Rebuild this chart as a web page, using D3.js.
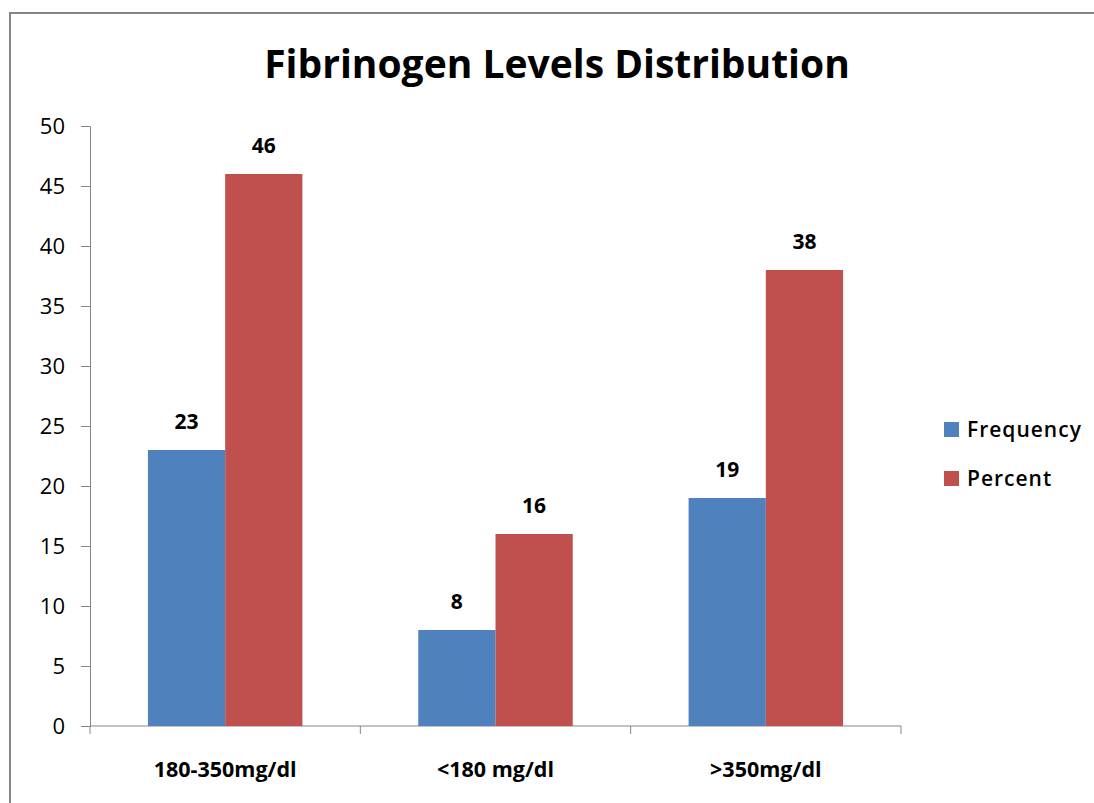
<!DOCTYPE html>
<html>
<head>
<meta charset="utf-8">
<script src="https://cdn.jsdelivr.net/npm/d3@7"></script>
<style>
  body { margin: 0; background: #fff; }
  svg text { font-family: "Open Sans", Lato, sans-serif; fill: #000; font-variant-ligatures: none; }
</style>
</head>
<body>
<div class="barchart"></div>
<script>
// data
var categories = ["180-350mg/dl", "<180 mg/dl", ">350mg/dl"];
var seriesNames = ["Frequency", "Percent"];
var frequency = [23, 8, 19];
var percent = [46, 16, 38];
var yTicks = [0, 5, 10, 15, 20, 25, 30, 35, 40, 45, 50];
var colors = ["#4F81BD", "#C0504D"];

function drawBars() {
    var w = 1094;
    var h = 803;
    var left = 90, right = 901, top = 126, bottom = 726;

    var svg = d3.select(".barchart")
                .append("svg")
                .attr("width", w)
                .attr("height", h);

    // chart frame (runs off the right and bottom edges)
    svg.append("rect")
        .attr("x", 10).attr("y", 13)
        .attr("width", 1200).attr("height", 900)
        .attr("fill", "none")
        .attr("stroke", "#868686")
        .attr("stroke-width", 2);

    svg.append("text")
        .attr("x", 557).attr("y", 78)
        .attr("text-anchor", "middle")
        .style("font-size", "39px")
        .style("font-weight", "bold")
        .text("Fibrinogen Levels Distribution");

    var xScale = d3.scaleBand()
                   .domain(categories)
                   .range([left, right]);

    var xInner = d3.scaleBand()
                   .domain(seriesNames)
                   .range([0, xScale.bandwidth()])
                   .paddingOuter(0.75);

    var yScale = d3.scaleLinear()
                   .domain([0, 50])
                   .range([bottom, top]);

    // y axis
    var yAxis = d3.axisLeft(yScale).tickValues(yTicks).tickSize(9).tickPadding(16);
    var yg = svg.append("g")
        .attr("class", "yAxis")
        .attr("transform", `translate(${left},0)`)
        .call(yAxis);
    yg.select(".domain").attr("stroke", "#868686");
    yg.selectAll(".tick line").attr("stroke", "#868686");
    yg.selectAll(".tick text")
        .style("font-size", "22px")
        .attr("fill", "#000");

    // x axis with ticks at band edges
    var xg = svg.append("g")
        .attr("class", "xAxis")
        .attr("transform", `translate(0,${bottom})`);
    xg.append("line")
        .attr("x1", left).attr("x2", right)
        .attr("stroke", "#868686");
    var edges = categories.map(function(c) { return xScale(c); }).concat([right]);
    xg.selectAll(".edge")
        .data(edges)
        .enter().append("line")
        .attr("class", "edge")
        .attr("x1", function(d) { return d; })
        .attr("x2", function(d) { return d; })
        .attr("y1", 0).attr("y2", 8)
        .attr("stroke", "#868686");
    xg.selectAll(".cat")
        .data(categories)
        .enter().append("text")
        .attr("class", "cat")
        .attr("x", function(d) { return xScale(d) + xScale.bandwidth() / 2; })
        .attr("y", 51)
        .attr("text-anchor", "middle")
        .style("font-size", "21.5px")
        .style("font-weight", "bold")
        .text(function(d) { return d; });

    var rows = categories.map(function(c, i) {
        return { cat: c, values: [frequency[i], percent[i]] };
    });

    var groups = svg.selectAll(".grp")
        .data(rows)
        .enter().append("g")
        .attr("class", "grp")
        .attr("transform", function(d) { return `translate(${xScale(d.cat)},0)`; });

    groups.selectAll("rect")
        .data(function(d) { return d.values.map(function(v, j) { return { name: seriesNames[j], v: v, j: j }; }); })
        .enter().append("rect")
        .attr("x", function(d) { return xInner(d.name); })
        .attr("width", xInner.bandwidth())
        .attr("y", function(d) { return yScale(d.v); })
        .attr("height", function(d) { return bottom - yScale(d.v); })
        .attr("fill", function(d) { return colors[d.j]; });

    groups.selectAll(".lbl")
        .data(function(d) { return d.values.map(function(v, j) { return { name: seriesNames[j], v: v }; }); })
        .enter().append("text")
        .attr("class", "lbl")
        .attr("x", function(d) { return xInner(d.name) + xInner.bandwidth() / 2; })
        .attr("y", function(d) { return yScale(d.v) - 21; })
        .attr("text-anchor", "middle")
        .style("font-size", "21px")
        .style("font-weight", "bold")
        .text(function(d) { return d.v; });

    // legend
    var legend = svg.selectAll(".leg")
        .data(seriesNames)
        .enter().append("g")
        .attr("class", "leg")
        .attr("transform", function(d, i) { return `translate(944,${422 + i * 49})`; });
    legend.append("rect")
        .attr("width", 15).attr("height", 15)
        .attr("fill", function(d, i) { return colors[i]; });
    legend.append("text")
        .attr("x", 23).attr("y", 15)
        .style("font-size", "21px")
        .style("font-weight", "600")
        .style("letter-spacing", "1px")
        .text(function(d) { return d; });
}

drawBars();
</script>
</body>
</html>
